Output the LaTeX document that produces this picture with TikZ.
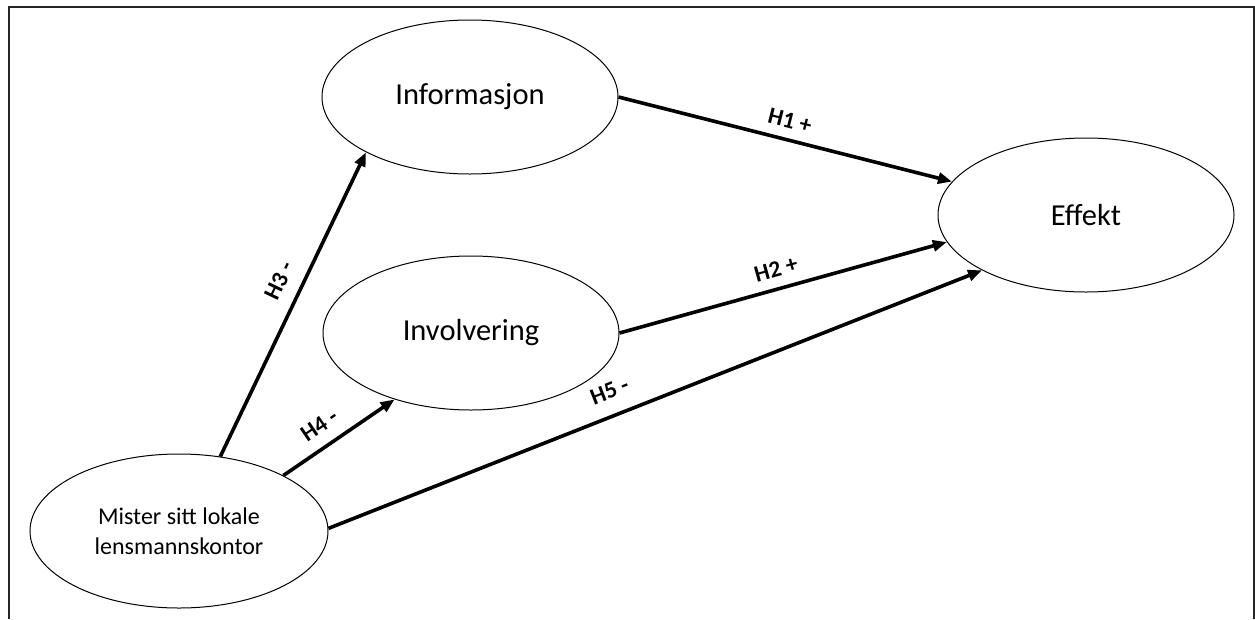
\documentclass[tikz,border=0pt]{standalone}
\usepackage{fontspec}
\setmainfont{Carlito}
\usetikzlibrary{shapes.geometric,arrows.meta}

\begin{document}
\begin{tikzpicture}[x=1pt,y=-1pt,
  construct/.style={draw, line width=1pt, ellipse, minimum width=296pt,
    minimum height=154pt, inner sep=0pt, font=\fontsize{30.5}{36}\selectfont},
  link/.style={line width=3.6pt, -{Triangle[length=14pt,width=11pt]}},
  hyp/.style={font=\bfseries\fontsize{23.5}{28}\selectfont, inner sep=0pt, sloped},
  frame/.style={line width=2pt, black!85}
]
\useasboundingbox (0,0) rectangle (1255,619);

% outer frame, open at the bottom
\draw[frame] (9,619) -- (9,7) -- (1254,7) -- (1254,619);

% constructs
\node[construct] (info)   at (470,97)   {Informasjon};
\node[construct] (invol)  at (471,333)  {Involvering};
\node[construct] (effekt) at (1086,215) {Effekt};
\node[construct, minimum width=298pt, align=center,
      font=\fontsize{24}{30}\selectfont] (mister) at (179,531)
      {Mister sitt lokale\\lensmannskontor};

% hypotheses
\draw[link] (mister.61) -- node[hyp, above=13pt, pos=0.546] {H3 -} (info.208);
\draw[link] (mister.28) -- node[hyp, above=11.5pt, pos=0.43] {H4 -} (invol.221);
\draw[link] (mister.1) -- node[hyp, above=15pt, pos=0.444] {H5 -} (effekt.208);
\draw[link] (info.east) -- node[hyp, above=10pt, pos=0.5] {H1 +} (effekt.166);
\draw[link] (invol.east) -- node[hyp, above=10pt, pos=0.494] {H2 +} (effekt.191);
\end{tikzpicture}
\end{document}
